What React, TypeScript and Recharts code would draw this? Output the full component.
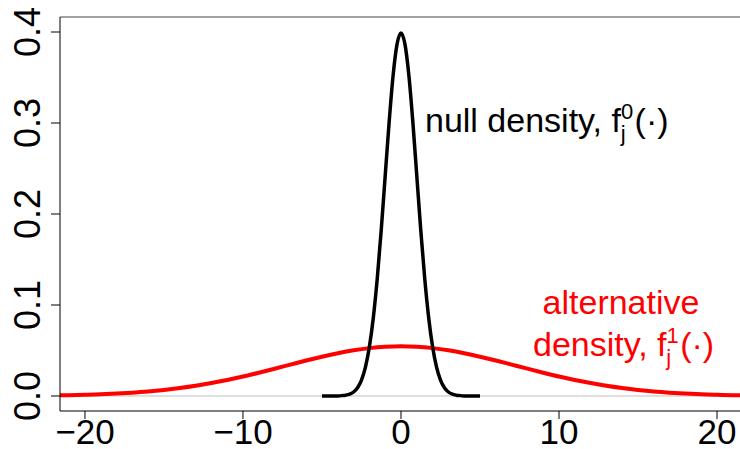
import React from 'react';
import { LineChart, Line, XAxis, YAxis, ReferenceLine } from 'recharts';

const FONT = '"Liberation Sans", Arial, Helvetica, sans-serif';

// null density curve (black)
const nullX = [
  -5, -4.75, -4.5, -4.25, -4, -3.75, -3.5, -3.25, -3, -2.75, -2.5, -2.25, -2, -1.75, -1.5, -1.25, -1, -0.75, -0.5, -0.25,
  0, 0.25, 0.5, 0.75, 1, 1.25, 1.5, 1.75, 2, 2.25, 2.5, 2.75, 3, 3.25, 3.5, 3.75, 4, 4.25, 4.5, 4.75, 5,
];
const nullY = [
  0, 0, 0, 0, 0.0001, 0.0004, 0.0009, 0.002, 0.0044, 0.0091, 0.0175, 0.0317, 0.054, 0.0863, 0.1295, 0.1826, 0.242, 0.3011, 0.3521, 0.3867,
  0.3989, 0.3867, 0.3521, 0.3011, 0.242, 0.1826, 0.1295, 0.0863, 0.054, 0.0317, 0.0175, 0.0091, 0.0044, 0.002, 0.0009, 0.0004, 0.0001, 0, 0, 0, 0,
];

// alternative density curve (red)
const altX = [
  -22, -21, -20, -19, -18, -17, -16, -15, -14, -13, -12, -11, -10, -9, -8, -7, -6, -5, -4, -3, -2, -1,
  0, 1, 2, 3, 4, 5, 6, 7, 8, 9, 10, 11, 12, 13, 14, 15, 16, 17, 18, 19, 20, 21, 22,
];
const altY = [
  0.0006, 0.0009, 0.0013, 0.0018, 0.0026, 0.0036, 0.0049, 0.0066, 0.0087, 0.0112, 0.0142, 0.0176, 0.0214, 0.0256, 0.03, 0.0345, 0.039, 0.0432, 0.047, 0.0502, 0.0526, 0.0541,
  0.0547, 0.0541, 0.0526, 0.0502, 0.047, 0.0432, 0.039, 0.0345, 0.03, 0.0256, 0.0214, 0.0176, 0.0142, 0.0112, 0.0087, 0.0066, 0.0049, 0.0036, 0.0026, 0.0018, 0.0013, 0.0009, 0.0006,
];

const xTicks = [-20, -10, 0, 10, 20];
const yTicks = [0, 0.1, 0.2, 0.3, 0.4];

const X_DOMAIN: [number, number] = [-21.58, 22.72];
const Y_DOMAIN: [number, number] = [-0.0165, 0.4165];

const nullData = nullX.map((x, i) => ({ x, y: nullY[i] }));
const altData = altX.map((x, i) => ({ x, y: altY[i] }));

const fmtX = (v: number) => (v < 0 ? '\u2212' + Math.abs(v) : String(v));

const XTick = ({ x, payload }: any) => (
  <text x={x} y={444} textAnchor="middle" fontSize={35} fontFamily={FONT} fill="#000">
    {fmtX(payload.value)}
  </text>
);

const YTick = ({ y, payload }: any) => (
  <text
    transform={`translate(40, ${y}) rotate(-90)`}
    textAnchor="middle"
    fontSize={36}
    fontFamily={FONT}
    fill="#000"
  >
    {payload.value.toFixed(1)}
  </text>
);

// "f" with subscript j and a superscript, then "(·)"
const DensityLabel = ({ x, y, text, sup, color }: any) => (
  <text x={x} y={y} fontSize={34} fill={color}>
    {text}
    <tspan fontSize={22} dy={-13}>{sup}</tspan>
    <tspan fontSize={22} dx={-12.5} dy={22}>j</tspan>
    <tspan fontSize={34} dx={9} dy={-9}>(·)</tspan>
  </text>
);

const Annotations = () => (
  <svg
    width={740}
    height={449}
    style={{ position: 'absolute', left: 0, top: 0, pointerEvents: 'none' }}
    fontFamily={FONT}
  >
    <DensityLabel x={425} y={132} text="null density, f" sup="0" color="#000" />
    <text x={621} y={314} textAnchor="middle" fontSize={34} fill="#ff0000">alternative</text>
    <DensityLabel x={533} y={356} text="density, f" sup="1" color="#ff0000" />
  </svg>
);

export default function App() {
  return (
    <div style={{ position: 'absolute', left: 0, top: 0, width: 740, height: 449, overflow: 'hidden', background: '#fff' }}>
      <LineChart width={780} height={449} margin={{ top: 17, right: 20, bottom: 0, left: 0 }}>
        <XAxis
          type="number"
          dataKey="x"
          domain={X_DOMAIN}
          ticks={xTicks}
          allowDataOverflow
          height={38}
          tickSize={8}
          stroke="#000"
          tick={<XTick />}
        />
        <YAxis
          type="number"
          dataKey="y"
          domain={Y_DOMAIN}
          ticks={yTicks}
          allowDataOverflow
          width={60}
          tickSize={9}
          stroke="#000"
          tick={<YTick />}
        />
        <ReferenceLine y={0} stroke="#bebebe" strokeWidth={1} />
        <ReferenceLine y={Y_DOMAIN[1]} stroke="#444" strokeWidth={1} />
        <Line
          data={altData}
          dataKey="y"
          type="monotone"
          stroke="#ff0000"
          strokeWidth={4}
          dot={false}
          activeDot={false}
          isAnimationActive={false}
        />
        <Line
          data={nullData}
          dataKey="y"
          type="monotone"
          stroke="#000"
          strokeWidth={3.5}
          dot={false}
          activeDot={false}
          isAnimationActive={false}
        />
      </LineChart>
      <Annotations />
    </div>
  );
}
